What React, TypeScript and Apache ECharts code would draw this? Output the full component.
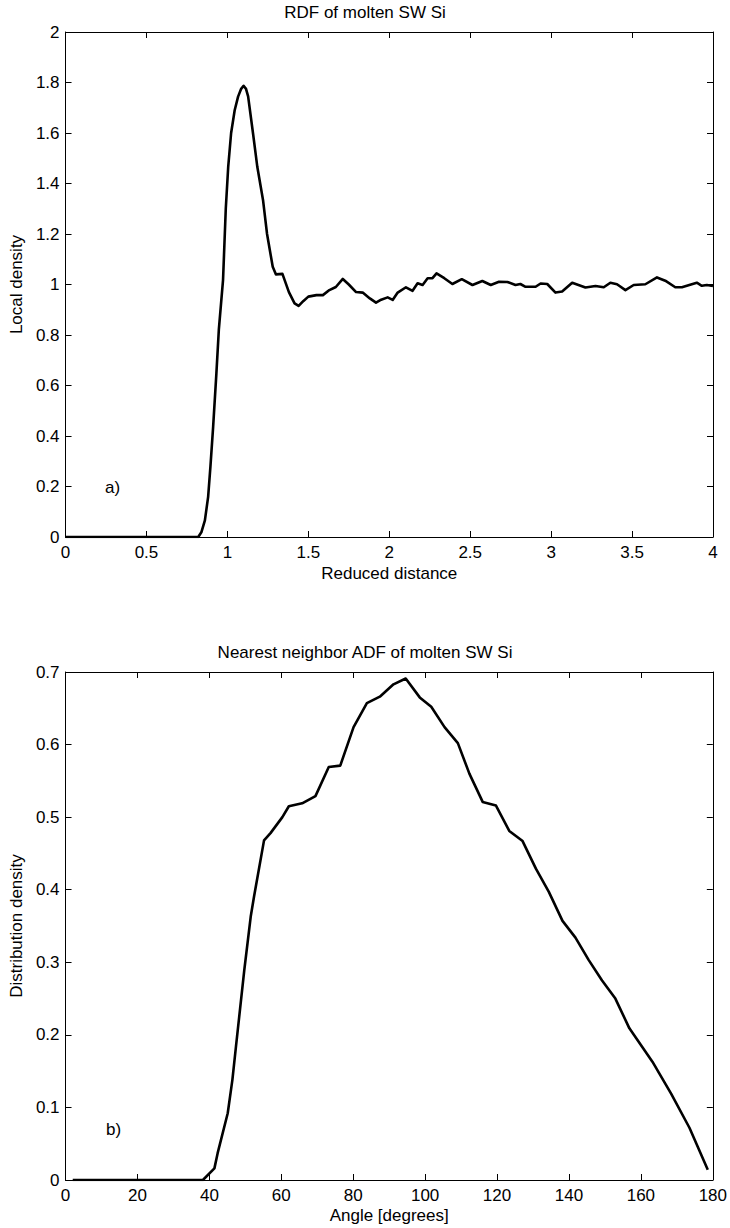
import React, { useEffect, useRef } from "react";
import * as echarts from "echarts";

// ---- Data: RDF of molten SW Si (reduced distance, local density) ----
const rdfDistance = [
  0, 0.2, 0.4, 0.6, 0.78, 0.82, 0.84, 0.861, 0.881, 0.895, 0.912, 0.932, 0.947, 0.973, 0.99,
  1.005, 1.023, 1.045, 1.066, 1.085, 1.1, 1.115, 1.128, 1.158, 1.185, 1.22, 1.245, 1.28, 1.3,
  1.34, 1.38, 1.415, 1.44, 1.47, 1.5, 1.55, 1.59, 1.63, 1.67, 1.713, 1.75, 1.795, 1.836, 1.88,
  1.918, 1.95, 1.99, 2.021, 2.052, 2.103, 2.144, 2.175, 2.206, 2.237, 2.267, 2.292, 2.34, 2.39,
  2.448, 2.514, 2.575, 2.627, 2.678, 2.73, 2.78, 2.81, 2.842, 2.904, 2.935, 2.976, 3.027, 3.068,
  3.13, 3.212, 3.274, 3.325, 3.366, 3.407, 3.459, 3.51, 3.582, 3.654, 3.705, 3.767, 3.808, 3.869,
  3.9, 3.931, 3.962, 4.0,
];
const rdfDensity = [
  0, 0, 0, 0, 0, 0, 0.02, 0.066, 0.159, 0.278, 0.437, 0.648, 0.82, 1.017, 1.3,
  1.466, 1.6, 1.69, 1.744, 1.775, 1.787, 1.775, 1.745, 1.6, 1.465, 1.335, 1.2, 1.07, 1.04,
  1.042, 0.97, 0.925, 0.915, 0.935, 0.952, 0.958, 0.958, 0.978, 0.99, 1.022, 1.0, 0.97, 0.968, 0.945,
  0.928, 0.94, 0.949, 0.939, 0.968, 0.989, 0.975, 1.005, 0.998, 1.025, 1.025, 1.044, 1.025, 1.002,
  1.021, 0.998, 1.014, 0.998, 1.011, 1.01, 0.998, 1.002, 0.991, 0.991, 1.004, 1.002, 0.968, 0.972,
  1.007, 0.988, 0.994, 0.989, 1.007, 1.001, 0.978, 0.998, 1.001, 1.028, 1.015, 0.989, 0.989, 1.001,
  1.007, 0.995, 0.998, 0.994,
];

// ---- Data: nearest neighbor ADF (angle in degrees, distribution density) ----
const adfAngle = [
  2, 10, 20, 30, 38.2, 41.4, 42.3, 45.1, 46.4, 47.4, 49.7, 51.5, 52.4, 55.2, 57, 60.3, 62.1,
  65.8, 69.5, 73.2, 76.4, 80.1, 83.8, 87.4, 91.2, 94.6, 98.5, 101.7, 105.4, 109.1, 112.3, 116,
  119.7, 123.4, 127.1, 130.8, 134.4, 138.2, 141.8, 145.5, 149.2, 152.9, 156.8, 160, 163.2,
  168.4, 173.5, 178.6,
];
const adfDensity = [
  0, 0, 0, 0, 0, 0.016, 0.037, 0.092, 0.138, 0.184, 0.289, 0.363, 0.39, 0.468, 0.478, 0.5, 0.515,
  0.519, 0.529, 0.569, 0.571, 0.624, 0.657, 0.666, 0.683, 0.691, 0.665, 0.652, 0.624, 0.602, 0.56, 0.521,
  0.516, 0.481, 0.467, 0.429, 0.397, 0.357, 0.334, 0.303, 0.275, 0.25, 0.209, 0.186, 0.163,
  0.119, 0.072, 0.014,
];

// ---- Axis settings ----
const rdfXAxis = { min: 0, max: 4, interval: 0.5 };
const rdfYAxis = { min: 0, max: 2, interval: 0.2 };
const adfXAxis = { min: 0, max: 180, interval: 20 };
const adfYAxis = { min: 0, max: 0.7, interval: 0.1 };

const titles = ["RDF of molten SW Si", "Nearest neighbor ADF of molten SW Si"];
const xNames = ["Reduced distance", "Angle [degrees]"];
const yNames = ["Local density", "Distribution density"];
const panelLabels = ["a)", "b)"];

const FONT = "'Liberation Sans', Arial, Helvetica, sans-serif";
const FS = 17;

function mainAxis(grid: number, range: any, name: string, gap: number, isX: boolean) {
  return {
    gridIndex: grid,
    type: "value",
    min: range.min,
    max: range.max,
    interval: range.interval,
    position: isX ? "bottom" : "left",
    name,
    nameLocation: "middle",
    nameGap: gap,
    nameTextStyle: { color: "#000", fontSize: FS, fontFamily: FONT },
    axisLine: { show: true, onZero: false, lineStyle: { color: "#000", width: 1 } },
    axisTick: { show: true, inside: true, length: 6, lineStyle: { color: "#000", width: 1 } },
    axisLabel: { color: "#000", fontSize: FS, fontFamily: FONT, margin: isX ? 7 : 6 },
    splitLine: { show: false },
  };
}

function boxAxis(grid: number, range: any, isX: boolean) {
  return {
    gridIndex: grid,
    type: "value",
    min: range.min,
    max: range.max,
    interval: range.interval,
    position: isX ? "top" : "right",
    axisLine: { show: true, onZero: false, lineStyle: { color: "#000", width: 1 } },
    axisTick: { show: true, inside: true, length: 6, lineStyle: { color: "#000", width: 1 } },
    axisLabel: { show: false },
    splitLine: { show: false },
  };
}

export default function App() {
  const ref = useRef<HTMLDivElement>(null);

  useEffect(() => {
    document.body.style.margin = "0";
    if (!ref.current) return;
    const chart = echarts.init(ref.current, undefined, { renderer: "svg" });

    const rdfData = rdfDistance.map((x, i) => [x, rdfDensity[i]]);
    const adfData = adfAngle.map((x, i) => [x, adfDensity[i]]);

    chart.setOption({
      animation: false,
      backgroundColor: "#fff",
      title: [
        {
          text: titles[0],
          left: "center",
          top: 4,
          textStyle: { color: "#000", fontSize: FS, fontWeight: "normal", fontFamily: FONT },
          padding: 0,
        },
        {
          text: titles[1],
          left: "center",
          top: 644,
          textStyle: { color: "#000", fontSize: FS, fontWeight: "normal", fontFamily: FONT },
          padding: 0,
        },
      ],
      grid: [
        { left: 62, top: 32, width: 651, height: 505, containLabel: false },
        { left: 62, top: 672, width: 651, height: 508, containLabel: false },
      ],
      xAxis: [
        mainAxis(0, rdfXAxis, xNames[0], 28, true),
        boxAxis(0, rdfXAxis, true),
        mainAxis(1, adfXAxis, xNames[1], 27, true),
        boxAxis(1, adfXAxis, true),
      ],
      yAxis: [
        mainAxis(0, rdfYAxis, yNames[0], 37, false),
        boxAxis(0, rdfYAxis, false),
        mainAxis(1, adfYAxis, yNames[1], 37, false),
        boxAxis(1, adfYAxis, false),
      ],
      graphic: [
        {
          type: "text",
          left: 105,
          top: 479,
          style: { text: panelLabels[0], fill: "#000", fontSize: FS, fontFamily: FONT },
        },
        {
          type: "text",
          left: 106,
          top: 1121,
          style: { text: panelLabels[1], fill: "#000", fontSize: FS, fontFamily: FONT },
        },
      ],
      series: [
        {
          type: "line",
          xAxisIndex: 0,
          yAxisIndex: 0,
          data: rdfData,
          showSymbol: false,
          symbol: "none",
          lineStyle: { color: "#000", width: 2.6, join: "round" },
          silent: true,
        },
        {
          type: "line",
          xAxisIndex: 2,
          yAxisIndex: 2,
          data: adfData,
          showSymbol: false,
          symbol: "none",
          lineStyle: { color: "#000", width: 2.6, join: "round" },
          silent: true,
        },
      ],
    });

    return () => {
      chart.dispose();
    };
  }, []);

  return <div ref={ref} style={{ width: 730, height: 1228 }} />;
}
